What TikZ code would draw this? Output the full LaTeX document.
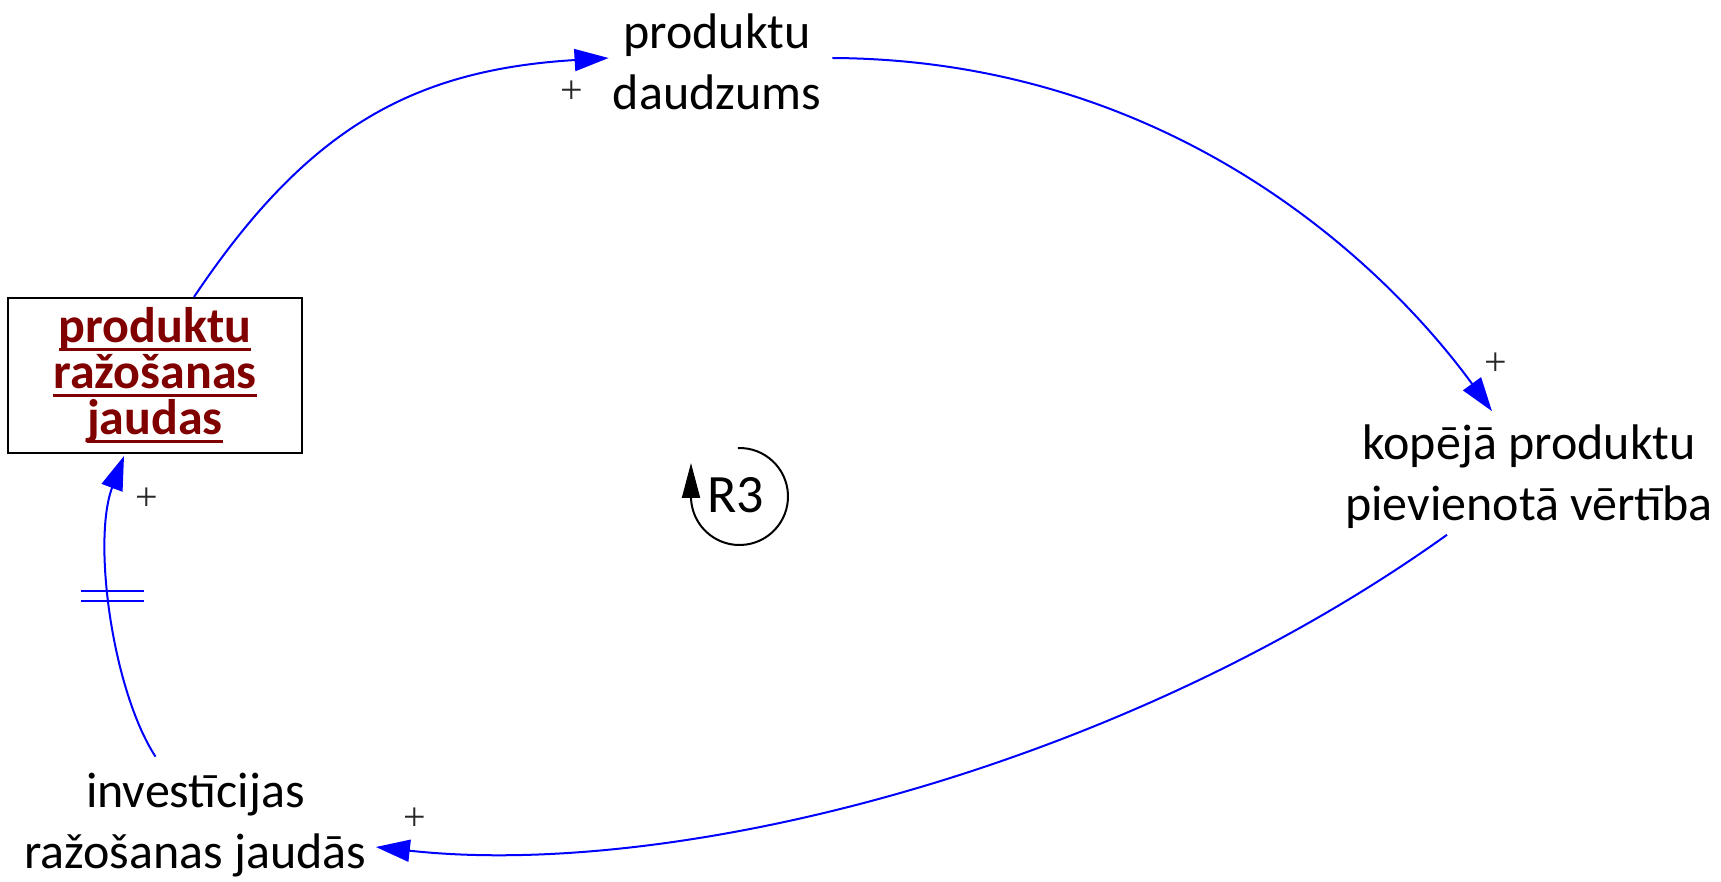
\documentclass[tikz,border=0pt]{standalone}
\usepackage{fontspec}
\setmainfont{Carlito}
\newfontfamily\plusfont{Liberation Serif}
\usetikzlibrary{arrows.meta}
\definecolor{linkblue}{RGB}{0,0,255}
\definecolor{stockred}{RGB}{128,0,0}
\newcommand\ulword[1]{\setbox0\hbox{#1}\rlap{\rule[-0.17em]{\wd0}{0.07em}}\box0}
\begin{document}
\begin{tikzpicture}[x=0.5pt,y=-0.5pt,
  lbl/.style={align=center, font=\fontsize{25}{30.5}\selectfont, inner sep=0pt},
  link/.style={draw=linkblue, line width=1pt, -{Triangle[length=17pt,width=11pt]}},
  pol/.style={font=\plusfont\fontsize{20}{20}\selectfont, inner sep=0pt, text=black!85},
  stockbox/.style={draw, line width=1pt, minimum width=147pt, minimum height=77.5pt, align=center, inner sep=0pt, text=stockred, font=\bfseries\fontsize{25}{23}\selectfont}]
\useasboundingbox (0,0) rectangle (1721,882);
\node[stockbox] (cap) at (155,375.5) {\ulword{produktu}\\\ulword{ražošanas}\\\ulword{jaudas}};
\node[lbl] (qty) at (717,62) {produktu\\daudzums};
\node[lbl] (val) at (1529,476.5) {kopējā produktu\\pievienotā vērtība};
\node[lbl] (inv) at (195.5,825) {investīcijas\\ražošanas jaudās};
\node[font=\fontsize{27}{30}\selectfont, inner sep=0pt] (r3) at (736,495) {R3};
\coordinate (rc) at (739.5,496.5);
\draw[line width=1pt, -{Triangle[length=17.5pt,width=9pt]}] ([shift={(92:24.25pt)}]rc) arc[start angle=92, end angle=-180, radius=24.25pt] -- ++(0pt,16.75pt);
% links
\draw[link] ([xshift=19.5pt]cap.north) .. controls +(112,-167) and +(-198,12) .. ([xshift=-2pt,yshift=2pt]qty.west);
\draw[link] ([xshift=5.5pt,yshift=2pt]qty.east) .. controls +(346,2) and +(-102,-140) .. ([xshift=-18.5pt,yshift=6.5pt]val.north);
\draw[link] ([xshift=-41pt,yshift=-3pt]val.south) .. controls +(-327,234) and +(300,33) .. ([xshift=4.5pt,yshift=-11pt]inv.east);
\draw[link] ([xshift=-20pt,yshift=8pt]inv.north) .. controls +(-43,-66) and +(-32,85) .. coordinate[pos=0.55] (dly) ([xshift=-15.5pt,yshift=-1pt]cap.south);
\draw[draw=linkblue, line width=1pt] ([shift={(-29,-5)}]dly) -- ++(63,0) ([shift={(-29,5)}]dly) -- ++(63,0);
% polarities
\node[pol] (p1) at (572,92) {+};
\node[pol] (p2) at (1496,364) {+};
\node[pol] (p3) at (415,819) {+};
\node[pol] (p4) at (147,499) {+};
\end{tikzpicture}
\end{document}
